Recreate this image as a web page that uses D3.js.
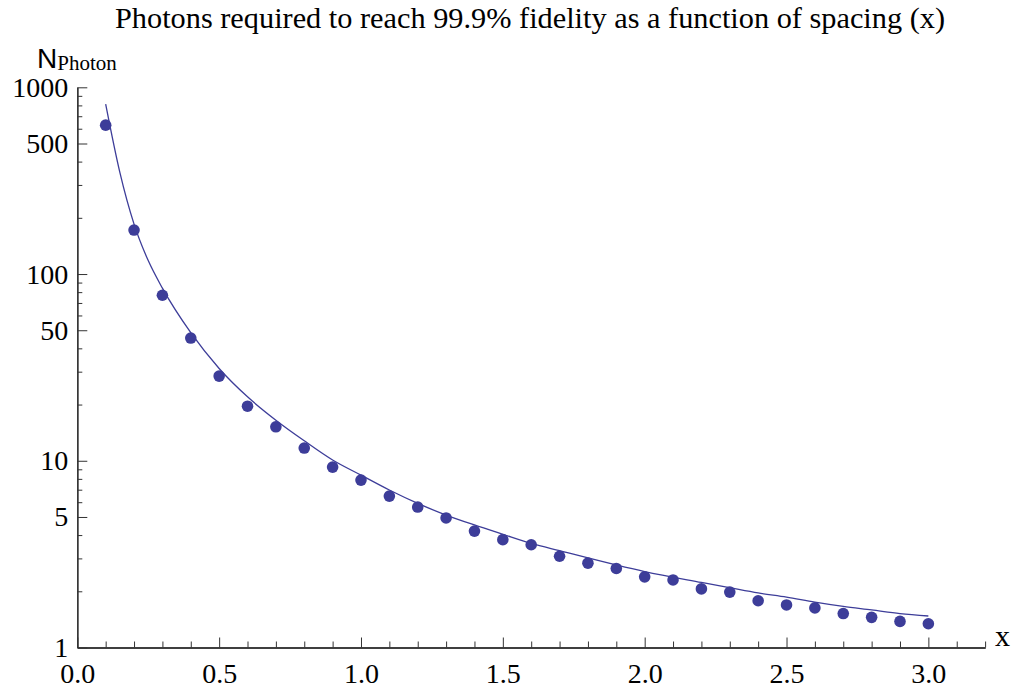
<!DOCTYPE html>
<html>
<head>
<meta charset="utf-8">
<script src="https://cdn.jsdelivr.net/npm/d3@7"></script>
<style>
  html, body { margin: 0; padding: 0; background: #fff; }
  svg { display: block; }
  .serif { font-family: "Liberation Serif", "Times New Roman", Times, serif; }
  .sans { font-family: "Liberation Sans", Arial, sans-serif; }
</style>
</head>
<body>
<svg id="chart" width="1018" height="691"></svg>
<script>
// ---- data ----
const pointX = [0.1,0.2,0.3,0.4,0.5,0.6,0.7,0.8,0.9,1.0,1.1,1.2,1.3,1.4,1.5,1.6,1.7,1.8,1.9,2.0,2.1,2.2,2.3,2.4,2.5,2.6,2.7,2.8,2.9,3.0];
const pointN = [627,172,77,45.4,28.4,19.6,15.2,11.7,9.25,7.88,6.47,5.65,4.94,4.20,3.78,3.55,3.08,2.83,2.65,2.39,2.30,2.06,1.98,1.78,1.69,1.63,1.52,1.45,1.38,1.34];
const curveX = [0.1,0.15,0.2,0.25,0.3,0.4,0.5,0.6,0.7,0.8,0.9,1.0,1.1,1.2,1.3,1.4,1.5,1.6,1.7,2.0,2.2,2.3,2.4,2.5,2.6,2.7,2.8,2.9,3.0];
const curveN = [812,350,185,118,84,48.5,31.2,22.0,16.5,12.8,10.1,8.38,6.97,5.91,5.12,4.53,4.04,3.61,3.30,2.55,2.23,2.09,1.96,1.86,1.75,1.66,1.59,1.52,1.475];
const xTickMajor = [0,0.5,1.0,1.5,2.0,2.5,3.0];
const xTickMinor = [0.1,0.2,0.3,0.4,0.6,0.7,0.8,0.9,1.1,1.2,1.3,1.4,1.6,1.7,1.8,1.9,2.1,2.2,2.3,2.4,2.6,2.7,2.8,2.9,3.1,3.2];
const yTickMajor = [1,5,10,50,100,500,1000];
const yTickMinor = [2,3,4,6,7,8,9,20,30,40,60,70,80,90,200,300,400,600,700,800,900];
const titleText = "Photons required to reach 99.9% fidelity as a function of spacing (x)";

const color = "#3d3d99";
const axisColor = "#333";

const svg = d3.select("#chart");
const x = d3.scaleLinear().domain([0, 3.2]).range([77.3, 985.1]);
const y = d3.scaleLog().domain([1, 1000]).range([647.5, 87.3]);

// minor ticks
const yMinor = svg.append("g").attr("transform", `translate(${x(0)},0)`)
  .call(d3.axisLeft(y).tickValues(yTickMinor).tickSize(-5).tickSizeOuter(0).tickFormat(""));
const xMinor = svg.append("g").attr("transform", `translate(0,${y(1)})`)
  .call(d3.axisBottom(x).tickValues(xTickMinor).tickSize(-6).tickSizeOuter(0).tickFormat(""));

// major axes
const yAxis = svg.append("g").attr("transform", `translate(${x(0)},0)`)
  .call(d3.axisLeft(y).tickValues(yTickMajor).tickSize(-10).tickSizeOuter(0).tickPadding(9)
    .tickFormat(d3.format("d")));
const xAxis = svg.append("g").attr("transform", `translate(0,${y(1)})`)
  .call(d3.axisBottom(x).tickValues(xTickMajor).tickSize(-10).tickSizeOuter(0).tickPadding(16)
    .tickFormat(d3.format(".1f")));

[yMinor, xMinor, yAxis, xAxis].forEach(g => {
  g.attr("font-family", null).attr("font-size", null);
  g.selectAll("path.domain").attr("stroke", axisColor).attr("stroke-width", 1.3);
  g.selectAll(".tick line").attr("stroke", axisColor).attr("stroke-width", 1);
  g.selectAll(".tick text").attr("fill", "#000").attr("class", "serif").style("font-size", "28px");
});

// curve
const line = d3.line().x(d => x(d[0])).y(d => y(d[1])).curve(d3.curveMonotoneX);
svg.append("path")
  .datum(curveX.map((v, i) => [v, curveN[i]]))
  .attr("d", line)
  .attr("fill", "none")
  .attr("stroke", color)
  .attr("stroke-width", 1.3);

// points
svg.append("g").selectAll("circle")
  .data(pointX.map((v, i) => [v, pointN[i]]))
  .join("circle")
  .attr("cx", d => x(d[0]))
  .attr("cy", d => y(d[1]))
  .attr("r", 5.8)
  .attr("fill", color);

// title
svg.append("text")
  .attr("class", "serif")
  .attr("x", 530).attr("y", 28)
  .attr("text-anchor", "middle")
  .attr("textLength", 830)
  .attr("lengthAdjust", "spacingAndGlyphs")
  .style("font-size", "29px")
  .text(titleText);

// y label
const yl = svg.append("text").attr("x", 37).attr("y", 68);
yl.append("tspan").attr("class", "sans").style("font-size", "28px").text("N");
yl.append("tspan").attr("class", "serif").attr("dy", 2).style("font-size", "21px").text("Photon");

// x label
svg.append("text")
  .attr("class", "serif")
  .attr("x", 995).attr("y", 646)
  .style("font-size", "30px")
  .text("x");
</script>
</body>
</html>
